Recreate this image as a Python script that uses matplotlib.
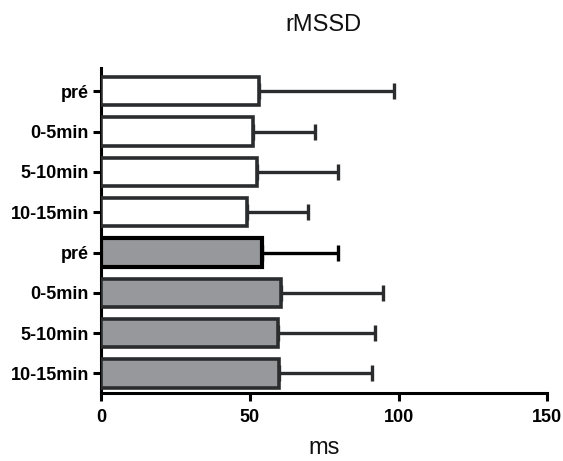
import matplotlib
matplotlib.use("Agg")
import matplotlib.pyplot as plt
import numpy as np

plt.rcParams['font.family'] = ['Liberation Sans', 'DejaVu Sans']

labels = ["pré", "0-5min", "5-10min", "10-15min", "pré", "0-5min", "5-10min", "10-15min"]
means = [53.0, 51.0, 52.5, 48.9, 54.0, 60.3, 59.3, 59.9]
upper = [98.4, 71.8, 79.5, 69.4, 79.5, 94.7, 92.0, 91.0]
fills = ["white"] * 4 + ["#97989b"] * 4
edges = ["#2a2c2e"] * 4 + ["#000000"] + ["#2a2c2e"] * 3

fig = plt.figure(figsize=(5.63, 4.61), dpi=100)
ax = fig.add_axes([0.18, 0.147, 0.792, 0.705])

y = np.arange(len(labels))
errs = [u - m for u, m in zip(upper, means)]
for i in range(len(labels)):
    ax.barh(y[i], means[i], height=0.7, color=fills[i], edgecolor=edges[i],
            linewidth=2.6 if i != 4 else 3.0, zorder=3)
    ax.errorbar(means[i], y[i], xerr=[[0], [errs[i]]], fmt='none',
                ecolor=edges[i], elinewidth=2.4, capsize=5.5, capthick=2.4, zorder=2)

ax.set_xlim(0, 150)
ax.set_ylim(7.49, -0.57)
ax.set_xticks([0, 50, 100, 150])
ax.set_yticks(y)
ax.set_yticklabels(labels)
for s in ["top", "right"]:
    ax.spines[s].set_visible(False)
for s in ["left", "bottom"]:
    ax.spines[s].set_linewidth(2.2)
    ax.spines[s].set_color("black")
ax.tick_params(axis='both', width=2.2, length=6, colors='black')
ax.tick_params(axis='y', labelsize=13, pad=3)
ax.tick_params(axis='x', labelsize=13, pad=5)
for lab in ax.get_xticklabels() + ax.get_yticklabels():
    lab.set_fontweight('bold')
ax.set_xlabel("ms", fontsize=17, labelpad=8, color='#111111')
fig.text(0.574, 0.946, "rMSSD", fontsize=17, ha='center', va='center', color='#111111')

fig.savefig("out.png", dpi=100)
